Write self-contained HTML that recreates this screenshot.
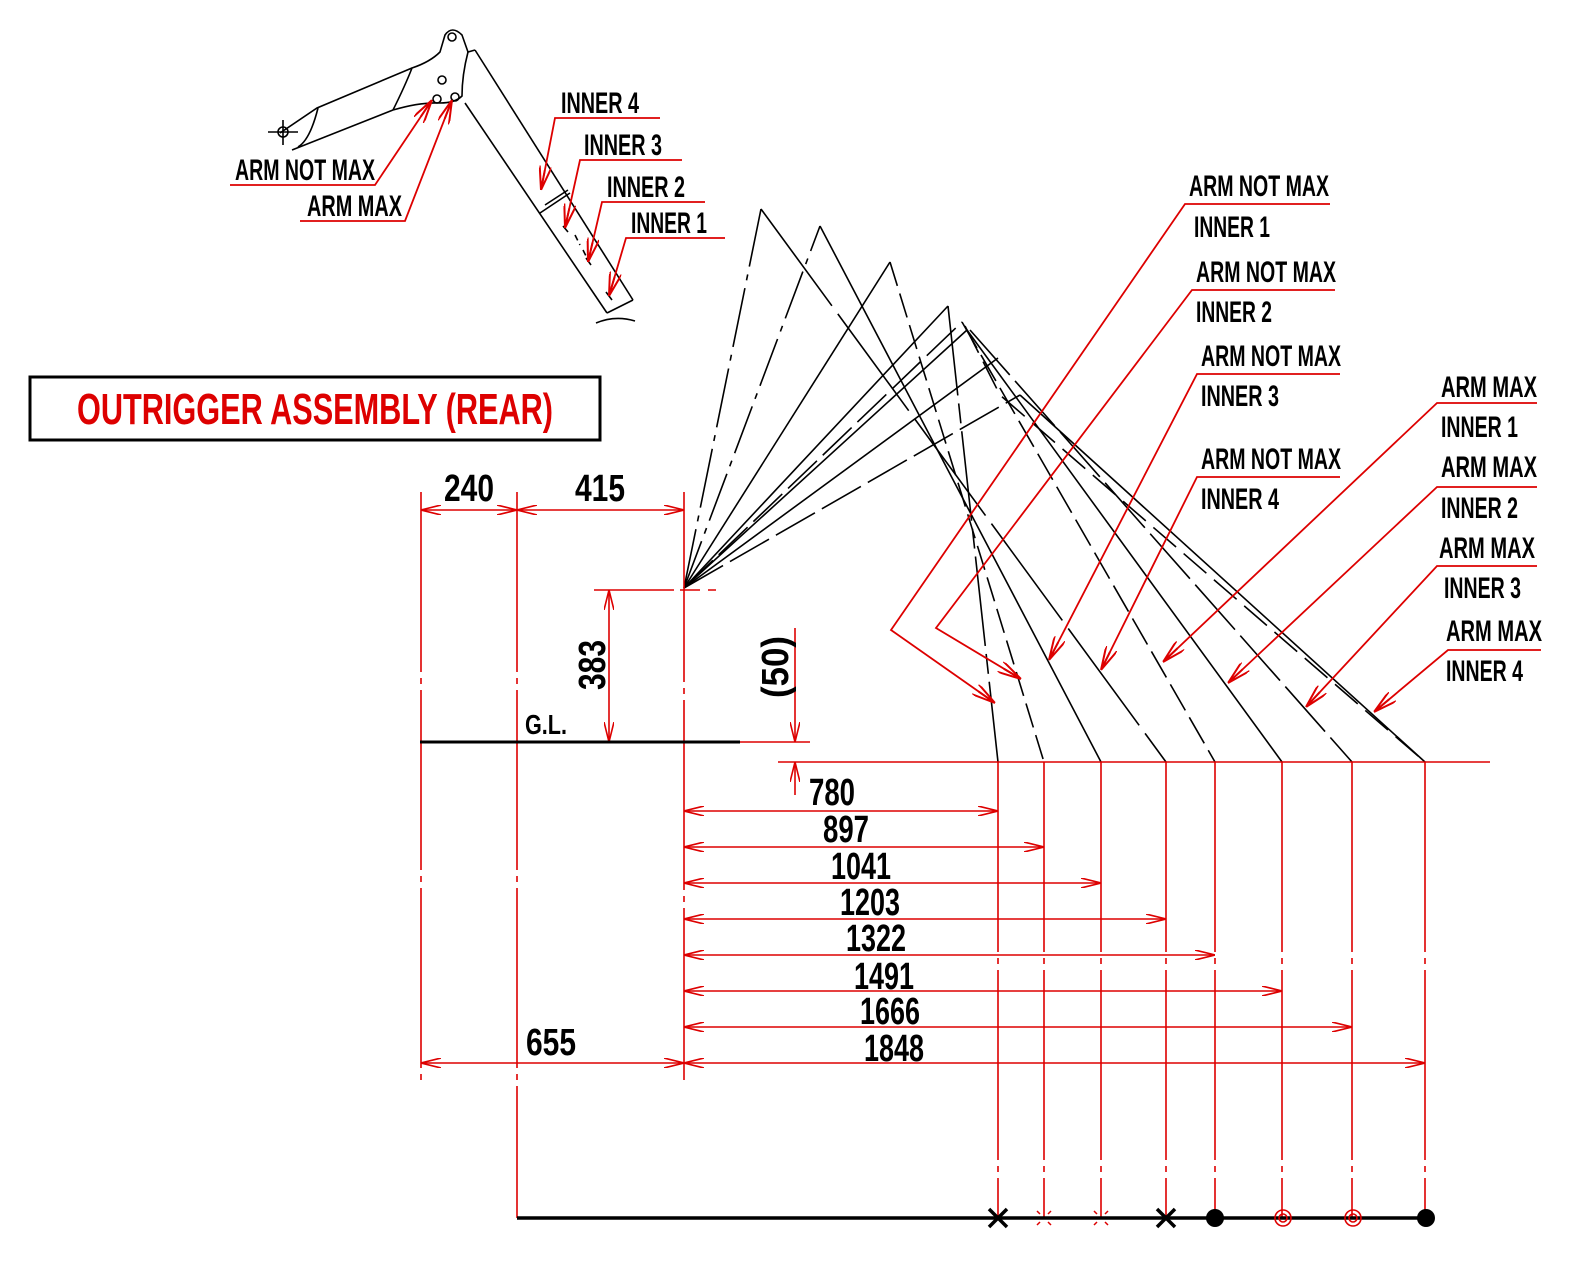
<!DOCTYPE html>
<html><head><meta charset="utf-8"><style>
html,body{margin:0;padding:0;background:#fff;}
svg{display:block;}
text{font-family:"Liberation Sans Narrow","Liberation Sans",sans-serif;font-weight:bold;}
</style></head><body>
<svg width="1572" height="1287" viewBox="0 0 1572 1287" xmlns="http://www.w3.org/2000/svg">
<defs>
<marker id="a" viewBox="0 0 20 10" refX="20" refY="5" markerWidth="20" markerHeight="10" markerUnits="userSpaceOnUse" orient="auto-start-reverse">
<path d="M0,0 L20,5 L0,10" fill="none" stroke="#d00" stroke-width="1.6"/>
</marker>
<marker id="b" viewBox="0 0 24 12" refX="24" refY="6" markerWidth="24" markerHeight="12" markerUnits="userSpaceOnUse" orient="auto">
<path d="M0,0 L24,6 L0,12 M4,6 L24,6" fill="none" stroke="#d00" stroke-width="2"/>
</marker>
</defs>

<!-- Title box -->
<rect x="30" y="377" width="570" height="63" fill="none" stroke="#000" stroke-width="3"/>
<text x="77" y="424" font-size="44" fill="#d00" textLength="476" lengthAdjust="spacingAndGlyphs">OUTRIGGER ASSEMBLY (REAR)</text>

<!-- Top-left arm sketch -->
<g fill="none" stroke="#000" stroke-width="1.6">
<path d="M280,133 L317,108 L412,68"/>
<path d="M292,150 L393,110"/>
<path d="M298,147 Q310,140 318,108"/>
<path d="M393,110 Q405,86 412,68 Q430,62 440,52 L445,35 Q452,25 462,35 L468,52 L475,50"/>
<path d="M393,110 Q420,102 440,103 Q455,103 462,96 Q462,75 468,52"/>
<circle cx="452" cy="37" r="4"/>
<path d="M475,50 L633,300"/>
<path d="M465,103 L607,313"/>
<path d="M633,300 L607,313"/>
<path d="M540,213 L570,193 M545,205 L568,190"/>
<path d="M596,323 Q615,315 635,321"/>
<circle cx="442" cy="80" r="4"/>
<circle cx="437" cy="99" r="4"/>
<circle cx="455" cy="97" r="4"/>
<circle cx="283" cy="132" r="5"/>
<path d="M268,132 L298,132 M283,120 L283,145"/>
<path d="M541,190 l0,0 M563,226 L568,232 M586,258 L591,265 M606,292 L612,300"/>
<path d="M575,235 L580,245 M583,250 L586,256" stroke-dasharray="6 4"/>
</g>
<g fill="none" stroke="#d00" stroke-width="1.8">
<path d="M230,185 L375,185 L432,100" marker-end="url(#b)"/>
<path d="M300,221 L405,221 L452,100" marker-end="url(#b)"/>
<path d="M660,118 L555,118 L541,190" marker-end="url(#b)"/>
<path d="M682,160 L580,160 L565,228" marker-end="url(#b)"/>
<path d="M705,202 L602,202 L588,262" marker-end="url(#b)"/>
<path d="M725,238 L626,238 L609,296" marker-end="url(#b)"/>
</g>
<g font-size="30" fill="#000">
<text x="235" y="180" textLength="140" lengthAdjust="spacingAndGlyphs">ARM NOT MAX</text>
<text x="307" y="216" textLength="95" lengthAdjust="spacingAndGlyphs">ARM MAX</text>
<text x="561" y="113" textLength="78" lengthAdjust="spacingAndGlyphs">INNER 4</text>
<text x="584" y="155" textLength="78" lengthAdjust="spacingAndGlyphs">INNER 3</text>
<text x="607" y="197" textLength="78" lengthAdjust="spacingAndGlyphs">INNER 2</text>
<text x="631" y="233" textLength="76" lengthAdjust="spacingAndGlyphs">INNER 1</text>
</g>

<!-- Fan lines -->
<g fill="none" stroke="#000" stroke-width="1.6">
<path d="M684,588 L761,209" stroke-dasharray="60 8 6 8"/>
<path d="M761,209 L1166,762" stroke-dasharray="120 10"/>
<path d="M684,588 L820,226" stroke-dasharray="50 8 6 8"/>
<path d="M820,226 L1101,762"/>
<path d="M684,588 L890,262"/>
<path d="M890,262 L1044,762" stroke-dasharray="25 8"/>
<path d="M684,588 L948,306"/>
<path d="M948,306 L998,762" stroke-dasharray="90 8 20 8"/>
<path d="M684,588 L962,322" stroke-dasharray="40 8"/>
<path d="M962,322 L1215,762" stroke-dasharray="30 8"/>
<path d="M684,588 L967,330"/>
<path d="M967,330 L1282,762"/>
<path d="M684,588 L998,358"/>
<path d="M970,330 L1352,762" stroke-dasharray="60 8"/>
<path d="M684,588 L1020,395" stroke-dasharray="45 8"/>
<path d="M1020,395 L1425,762"/>
<path d="M965,326 L1000,395 L1425,762" stroke-dasharray="30 10"/>
</g>

<!-- Right labels -->
<g fill="none" stroke="#d00" stroke-width="1.8">
<path d="M1330,204 L1185,204 L891,630 L995,703" marker-end="url(#b)"/>
<path d="M1335,290 L1192,290 L936,628 L1021,679" marker-end="url(#b)"/>
<path d="M1340,374 L1197,374 L1049,660" marker-end="url(#b)"/>
<path d="M1340,477 L1197,477 L1101,670" marker-end="url(#b)"/>
<path d="M1537,403 L1437,403 L1163,662" marker-end="url(#b)"/>
<path d="M1537,487 L1437,487 L1228,683" marker-end="url(#b)"/>
<path d="M1537,566 L1437,566 L1306,707" marker-end="url(#b)"/>
<path d="M1541,650 L1448,650 L1374,712" marker-end="url(#b)"/>
</g>
<g font-size="30" fill="#000">
<text x="1189" y="196" textLength="140" lengthAdjust="spacingAndGlyphs">ARM NOT MAX</text>
<text x="1194" y="237" textLength="76" lengthAdjust="spacingAndGlyphs">INNER 1</text>
<text x="1196" y="282" textLength="140" lengthAdjust="spacingAndGlyphs">ARM NOT MAX</text>
<text x="1196" y="322" textLength="76" lengthAdjust="spacingAndGlyphs">INNER 2</text>
<text x="1201" y="366" textLength="140" lengthAdjust="spacingAndGlyphs">ARM NOT MAX</text>
<text x="1201" y="406" textLength="78" lengthAdjust="spacingAndGlyphs">INNER 3</text>
<text x="1201" y="469" textLength="140" lengthAdjust="spacingAndGlyphs">ARM NOT MAX</text>
<text x="1201" y="509" textLength="78" lengthAdjust="spacingAndGlyphs">INNER 4</text>
<text x="1441" y="397" textLength="96" lengthAdjust="spacingAndGlyphs">ARM MAX</text>
<text x="1441" y="437" textLength="77" lengthAdjust="spacingAndGlyphs">INNER 1</text>
<text x="1441" y="477" textLength="96" lengthAdjust="spacingAndGlyphs">ARM MAX</text>
<text x="1441" y="518" textLength="77" lengthAdjust="spacingAndGlyphs">INNER 2</text>
<text x="1439" y="558" textLength="96" lengthAdjust="spacingAndGlyphs">ARM MAX</text>
<text x="1444" y="598" textLength="77" lengthAdjust="spacingAndGlyphs">INNER 3</text>
<text x="1446" y="641" textLength="96" lengthAdjust="spacingAndGlyphs">ARM MAX</text>
<text x="1446" y="681" textLength="77" lengthAdjust="spacingAndGlyphs">INNER 4</text>
</g>

<!-- Dimension lines -->
<g fill="none" stroke="#d00" stroke-width="1.6">
<path d="M421,492 L421,1080" stroke-dasharray="180 6 6 6"/>
<path d="M517,492 L517,1218" stroke-dasharray="180 6 6 6"/>
<path d="M684,492 L684,1080" stroke-dasharray="190 6 6 6"/>
<path d="M421,510 L517,510" marker-start="url(#a)" marker-end="url(#a)"/>
<path d="M517,510 L684,510" marker-start="url(#a)" marker-end="url(#a)"/>
<path d="M594,590 L716,590" stroke-dasharray="80 6 20 8 20"/>
<path d="M609,590 L609,742" marker-start="url(#a)" marker-end="url(#a)"/>
<path d="M740,742 L810,742"/>
<path d="M778,762 L1490,762"/>
<path d="M795,628 L795,742" marker-end="url(#a)"/>
<path d="M795,795 L795,762" marker-end="url(#a)"/>
<path d="M998,762 L998,1218" stroke-dasharray="190 6 6 6"/>
<path d="M1044,762 L1044,1218" stroke-dasharray="190 6 6 6"/>
<path d="M1101,762 L1101,1218" stroke-dasharray="190 6 6 6"/>
<path d="M1166,762 L1166,1218" stroke-dasharray="190 6 6 6"/>
<path d="M1215,762 L1215,1218" stroke-dasharray="190 6 6 6"/>
<path d="M1282,762 L1282,1218" stroke-dasharray="190 6 6 6"/>
<path d="M1352,762 L1352,1218" stroke-dasharray="190 6 6 6"/>
<path d="M1425,762 L1425,1218" stroke-dasharray="190 6 6 6"/>
<path d="M684,811 L998,811" marker-start="url(#a)" marker-end="url(#a)"/>
<path d="M684,847 L1044,847" marker-start="url(#a)" marker-end="url(#a)"/>
<path d="M684,883 L1101,883" marker-start="url(#a)" marker-end="url(#a)"/>
<path d="M684,919 L1166,919" marker-start="url(#a)" marker-end="url(#a)"/>
<path d="M684,955 L1215,955" marker-start="url(#a)" marker-end="url(#a)"/>
<path d="M684,991 L1282,991" marker-start="url(#a)" marker-end="url(#a)"/>
<path d="M684,1027 L1352,1027" marker-start="url(#a)" marker-end="url(#a)"/>
<path d="M684,1063 L1425,1063" marker-start="url(#a)" marker-end="url(#a)"/>
<path d="M421,1063 L684,1063" marker-start="url(#a)" marker-end="url(#a)"/>
</g>
<path d="M420,742 L740,742" stroke="#000" stroke-width="3"/>
<path d="M517,1218 L1430,1218" stroke="#000" stroke-width="3.5"/>

<g font-size="38" fill="#000">
<text x="444" y="501" textLength="50" lengthAdjust="spacingAndGlyphs">240</text>
<text x="575" y="501" textLength="50" lengthAdjust="spacingAndGlyphs">415</text>
<text x="526" y="1055" textLength="50" lengthAdjust="spacingAndGlyphs">655</text>
<text transform="translate(605,690) rotate(-90)" textLength="50" lengthAdjust="spacingAndGlyphs">383</text>
<text transform="translate(788,698) rotate(-90)" textLength="62" lengthAdjust="spacingAndGlyphs">(50)</text>
<text x="809" y="805" textLength="46" lengthAdjust="spacingAndGlyphs">780</text>
<text x="823" y="842" textLength="46" lengthAdjust="spacingAndGlyphs">897</text>
<text x="831" y="879" textLength="60" lengthAdjust="spacingAndGlyphs">1041</text>
<text x="840" y="915" textLength="60" lengthAdjust="spacingAndGlyphs">1203</text>
<text x="846" y="951" textLength="60" lengthAdjust="spacingAndGlyphs">1322</text>
<text x="854" y="989" textLength="60" lengthAdjust="spacingAndGlyphs">1491</text>
<text x="860" y="1024" textLength="60" lengthAdjust="spacingAndGlyphs">1666</text>
<text x="864" y="1061" textLength="60" lengthAdjust="spacingAndGlyphs">1848</text>
</g>
<text x="525" y="734" font-size="28" fill="#000" textLength="42" lengthAdjust="spacingAndGlyphs">G.L.</text>

<!-- Markers on bottom line -->
<g stroke="#000" stroke-width="3.5" fill="none">
<path d="M989,1209 L1007,1227 M1007,1209 L989,1227"/>
<path d="M1157,1209 L1175,1227 M1175,1209 L1157,1227"/>
</g>
<g stroke="#d00" stroke-width="1.5">
<path d="M1037,1211 L1040,1214 M1051,1211 L1048,1214 M1037,1225 L1040,1222 M1051,1225 L1048,1222"/>
<path d="M1094,1211 L1097,1214 M1108,1211 L1105,1214 M1094,1225 L1097,1222 M1108,1225 L1105,1222"/>
</g>
<circle cx="1215" cy="1218" r="9" fill="#000"/>
<circle cx="1426" cy="1218" r="9" fill="#000"/>
<g fill="none" stroke="#d00" stroke-width="1.6">
<circle cx="1283" cy="1218" r="8"/><circle cx="1283" cy="1218" r="4"/>
<circle cx="1353" cy="1218" r="8"/><circle cx="1353" cy="1218" r="4"/>
</g>
</svg>
</body></html>
